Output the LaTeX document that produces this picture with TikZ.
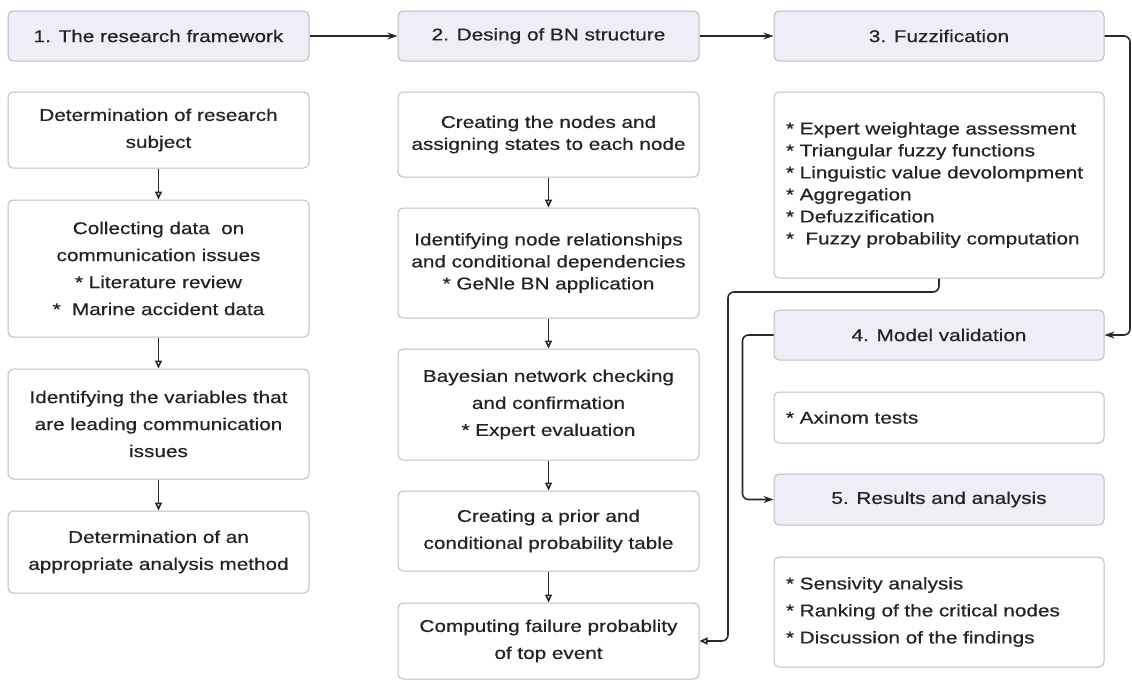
\documentclass[tikz,border=0pt]{standalone}
\usepackage{fontspec}
\setmainfont{Liberation Sans}[FakeStretch=1.22,FakeBold=0.5]
\usetikzlibrary{arrows.meta}

\begin{document}
\begin{tikzpicture}[x=1pt,y=-1pt,
    stage/.style={draw=edge,fill=head,rounded corners=5pt,line width=1pt,text=ink,
      font=\fontsize{17}{27}\selectfont,minimum height=50pt,inner sep=0pt},
    task/.style={draw=edge,fill=white,rounded corners=5pt,line width=1pt,text=ink,
      font=\fontsize{17}{27}\selectfont,align=center,text width=290pt,inner xsep=5.5pt,inner ysep=0pt},
    items/.style={draw=edge,fill=white,rounded corners=5pt,line width=1pt,text=ink,
      font=\fontsize{17}{27}\selectfont,align=left,text width=306pt,inner xsep=12pt,inner ysep=0pt},
    tight/.style={font=\fontsize{17}{22}\selectfont},
    next/.style={draw=wire,line width=1.6pt,-{Stealth[length=10pt,width=7pt]}},
    down/.style={draw=wire,line width=1.6pt,-{Triangle[open,length=8pt,width=7pt]}}]
    \definecolor{head}{RGB}{238,238,247}
    \definecolor{edge}{RGB}{188,188,194}
    \definecolor{ink}{RGB}{35,35,35}
    \definecolor{wire}{RGB}{40,40,40}
    \useasboundingbox (0,0) rectangle (1132,680);
    % headers
    \node[stage,minimum width=301pt] (frame) at (158.5,36) {1. The research framework};
    \node[stage,minimum width=301pt] (design) at (548.5,36) {2. Desing of BN structure};
    \node[stage,minimum width=330pt] (fuzz) at (939,36) {3. Fuzzification};
    \node[stage,minimum width=330pt] (valid) at (939,335) {4. Model validation};
    \node[stage,minimum width=330pt,minimum height=51pt] (result) at (939,499.5) {5. Results and analysis};
    % column 1
    \node[task,minimum height=76pt] (subject) at (158.5,130) {Determination of research\\subject};
    \node[task,minimum height=137pt] (collect) at (158.5,268.5) {Collecting data~ on\\communication issues\\{*} Literature review\\{*}~ Marine accident data};
    \node[task,minimum height=110pt] (variables) at (158.5,424) {Identifying the variables that\\are leading communication\\issues};
    \node[task,minimum height=82pt] (method) at (158.5,552) {Determination of an\\appropriate analysis method};
    % column 2
    \node[task,tight,minimum height=85pt] (nodes) at (548.5,134.5) {Creating the nodes and\\assigning states to each node};
    \node[task,tight,minimum height=110pt] (relations) at (548.5,263) {Identifying node relationships\\and conditional dependencies\\{*} GeNle BN application};
    \node[task,minimum height=111pt] (checking) at (548.5,404.5) {Bayesian network checking\\and confirmation\\{*} Expert evaluation};
    \node[task,minimum height=80pt] (table) at (548.5,531) {Creating a prior and\\conditional probability table};
    \node[task,minimum height=76pt] (topevent) at (548.5,641) {Computing failure probablity\\of top event};
    % column 3
    \node[items,tight,minimum height=186pt] (fuzzsteps) at (939,185) {{*} Expert weightage assessment\\{*} Triangular fuzzy functions\\{*} Linguistic value devolompment\\{*} Aggregation\\{*} Defuzzification\\{*}~ Fuzzy probability computation};
    \node[items,minimum height=51pt] (axiom) at (939,417.5) {{*} Axinom tests};
    \node[items,minimum height=110pt] (findings) at (939,612) {{*} Sensivity analysis\\{*} Ranking of the critical nodes\\{*} Discussion of the findings};
    % connectors
    \draw[next] (frame) -- (design);
    \draw[next] (design) -- (fuzz);
    \draw[next,rounded corners=6pt] (fuzz.east) -- (1130,36) |- (valid.east);
    \draw[down,rounded corners=6pt] (fuzzsteps.south) |- (728,292) |- (topevent.east);
    \draw[next,rounded corners=6pt] (valid.west) -- ++(-31,0) |- (result.west);
    \draw[down] (subject) -- (collect);
    \draw[down] (collect) -- (variables);
    \draw[down] (variables) -- (method);
    \draw[down] (nodes) -- (relations);
    \draw[down] (relations) -- (checking);
    \draw[down] (checking) -- (table);
    \draw[down] (table) -- (topevent);
\end{tikzpicture}
\end{document}
